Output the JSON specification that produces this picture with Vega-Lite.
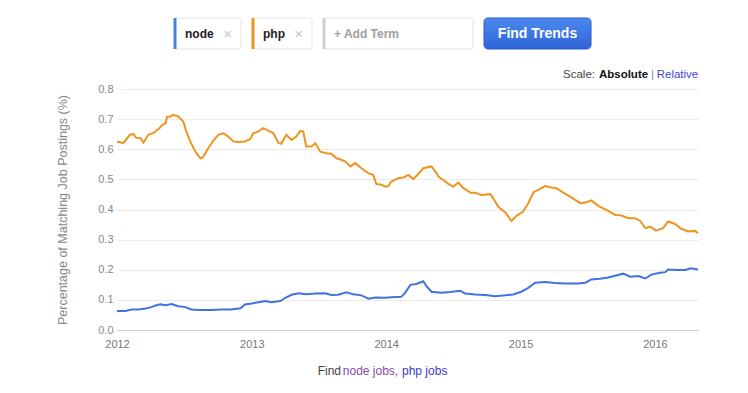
{
  "$schema": "https://vega.github.io/schema/vega-lite/v6.json",
  "padding": {"left": 56, "top": 16, "right": 5, "bottom": 5},
  "background": "white",
  "center": true,
  "spacing": 1,
  "config": {"view": {"stroke": null}, "font": "Liberation Sans"},
  "datasets": {
    "chips": [{"term": "node"}, {"term": "php"}, {"term": "+ Add Term"}, {"term": "Find Trends"}],
    "scale": [{"word": "Scale:"}, {"word": "Absolute"}, {"word": "|"}, {"word": "Relative"}],
    "footer": [{"part": "Find"}, {"part": "node jobs,"}, {"part": "php jobs"}],
    "trends": [
      {"d": "2012-01-01", "t": "php", "v": 0.626},
      {"d": "2012-01-18", "t": "php", "v": 0.620},
      {"d": "2012-02-05", "t": "php", "v": 0.648},
      {"d": "2012-02-15", "t": "php", "v": 0.650},
      {"d": "2012-02-22", "t": "php", "v": 0.638},
      {"d": "2012-03-05", "t": "php", "v": 0.637},
      {"d": "2012-03-13", "t": "php", "v": 0.622},
      {"d": "2012-03-26", "t": "php", "v": 0.648},
      {"d": "2012-04-09", "t": "php", "v": 0.654},
      {"d": "2012-04-23", "t": "php", "v": 0.667},
      {"d": "2012-05-01", "t": "php", "v": 0.678},
      {"d": "2012-05-12", "t": "php", "v": 0.687},
      {"d": "2012-05-16", "t": "php", "v": 0.708},
      {"d": "2012-05-25", "t": "php", "v": 0.709},
      {"d": "2012-06-02", "t": "php", "v": 0.714},
      {"d": "2012-06-15", "t": "php", "v": 0.709},
      {"d": "2012-06-29", "t": "php", "v": 0.692},
      {"d": "2012-07-07", "t": "php", "v": 0.659},
      {"d": "2012-07-18", "t": "php", "v": 0.626},
      {"d": "2012-08-01", "t": "php", "v": 0.592},
      {"d": "2012-08-14", "t": "php", "v": 0.570},
      {"d": "2012-08-22", "t": "php", "v": 0.574},
      {"d": "2012-09-05", "t": "php", "v": 0.604},
      {"d": "2012-09-19", "t": "php", "v": 0.629},
      {"d": "2012-10-02", "t": "php", "v": 0.648},
      {"d": "2012-10-16", "t": "php", "v": 0.653},
      {"d": "2012-10-29", "t": "php", "v": 0.642},
      {"d": "2012-11-12", "t": "php", "v": 0.626},
      {"d": "2012-11-25", "t": "php", "v": 0.624},
      {"d": "2012-12-14", "t": "php", "v": 0.626},
      {"d": "2012-12-28", "t": "php", "v": 0.634},
      {"d": "2013-01-05", "t": "php", "v": 0.653},
      {"d": "2013-01-19", "t": "php", "v": 0.659},
      {"d": "2013-02-01", "t": "php", "v": 0.670},
      {"d": "2013-02-15", "t": "php", "v": 0.662},
      {"d": "2013-03-01", "t": "php", "v": 0.653},
      {"d": "2013-03-14", "t": "php", "v": 0.622},
      {"d": "2013-03-22", "t": "php", "v": 0.618},
      {"d": "2013-04-05", "t": "php", "v": 0.648},
      {"d": "2013-04-19", "t": "php", "v": 0.631},
      {"d": "2013-05-02", "t": "php", "v": 0.642},
      {"d": "2013-05-13", "t": "php", "v": 0.661},
      {"d": "2013-05-21", "t": "php", "v": 0.659},
      {"d": "2013-05-29", "t": "php", "v": 0.609},
      {"d": "2013-06-12", "t": "php", "v": 0.609},
      {"d": "2013-06-23", "t": "php", "v": 0.620},
      {"d": "2013-07-06", "t": "php", "v": 0.592},
      {"d": "2013-07-23", "t": "php", "v": 0.587},
      {"d": "2013-08-05", "t": "php", "v": 0.585},
      {"d": "2013-08-19", "t": "php", "v": 0.570},
      {"d": "2013-09-01", "t": "php", "v": 0.565},
      {"d": "2013-09-12", "t": "php", "v": 0.559},
      {"d": "2013-09-26", "t": "php", "v": 0.543},
      {"d": "2013-10-09", "t": "php", "v": 0.554},
      {"d": "2013-10-26", "t": "php", "v": 0.537},
      {"d": "2013-11-14", "t": "php", "v": 0.520},
      {"d": "2013-11-27", "t": "php", "v": 0.515},
      {"d": "2013-12-05", "t": "php", "v": 0.485},
      {"d": "2013-12-19", "t": "php", "v": 0.482},
      {"d": "2013-12-30", "t": "php", "v": 0.476},
      {"d": "2014-01-07", "t": "php", "v": 0.478},
      {"d": "2014-01-15", "t": "php", "v": 0.493},
      {"d": "2014-02-03", "t": "php", "v": 0.504},
      {"d": "2014-02-17", "t": "php", "v": 0.506},
      {"d": "2014-03-02", "t": "php", "v": 0.515},
      {"d": "2014-03-16", "t": "php", "v": 0.501},
      {"d": "2014-03-29", "t": "php", "v": 0.518},
      {"d": "2014-04-12", "t": "php", "v": 0.537},
      {"d": "2014-05-04", "t": "php", "v": 0.543},
      {"d": "2014-05-15", "t": "php", "v": 0.526},
      {"d": "2014-05-23", "t": "php", "v": 0.509},
      {"d": "2014-06-05", "t": "php", "v": 0.498},
      {"d": "2014-06-19", "t": "php", "v": 0.485},
      {"d": "2014-07-02", "t": "php", "v": 0.476},
      {"d": "2014-07-16", "t": "php", "v": 0.489},
      {"d": "2014-07-30", "t": "php", "v": 0.471},
      {"d": "2014-08-18", "t": "php", "v": 0.456},
      {"d": "2014-08-31", "t": "php", "v": 0.456},
      {"d": "2014-09-16", "t": "php", "v": 0.448},
      {"d": "2014-10-11", "t": "php", "v": 0.451},
      {"d": "2014-10-19", "t": "php", "v": 0.437},
      {"d": "2014-11-02", "t": "php", "v": 0.408},
      {"d": "2014-11-21", "t": "php", "v": 0.390},
      {"d": "2014-12-07", "t": "php", "v": 0.362},
      {"d": "2014-12-21", "t": "php", "v": 0.379},
      {"d": "2015-01-08", "t": "php", "v": 0.393},
      {"d": "2015-01-22", "t": "php", "v": 0.421},
      {"d": "2015-02-05", "t": "php", "v": 0.457},
      {"d": "2015-02-18", "t": "php", "v": 0.465},
      {"d": "2015-03-09", "t": "php", "v": 0.478},
      {"d": "2015-03-25", "t": "php", "v": 0.473},
      {"d": "2015-04-08", "t": "php", "v": 0.471},
      {"d": "2015-04-27", "t": "php", "v": 0.456},
      {"d": "2015-05-19", "t": "php", "v": 0.440},
      {"d": "2015-06-12", "t": "php", "v": 0.421},
      {"d": "2015-06-26", "t": "php", "v": 0.423},
      {"d": "2015-07-12", "t": "php", "v": 0.430},
      {"d": "2015-07-31", "t": "php", "v": 0.412},
      {"d": "2015-08-22", "t": "php", "v": 0.399},
      {"d": "2015-09-15", "t": "php", "v": 0.382},
      {"d": "2015-10-01", "t": "php", "v": 0.381},
      {"d": "2015-10-20", "t": "php", "v": 0.371},
      {"d": "2015-11-08", "t": "php", "v": 0.371},
      {"d": "2015-11-22", "t": "php", "v": 0.362},
      {"d": "2015-12-06", "t": "php", "v": 0.338},
      {"d": "2015-12-19", "t": "php", "v": 0.343},
      {"d": "2016-01-04", "t": "php", "v": 0.330},
      {"d": "2016-01-23", "t": "php", "v": 0.338},
      {"d": "2016-02-06", "t": "php", "v": 0.360},
      {"d": "2016-02-25", "t": "php", "v": 0.352},
      {"d": "2016-03-12", "t": "php", "v": 0.336},
      {"d": "2016-03-31", "t": "php", "v": 0.327},
      {"d": "2016-04-19", "t": "php", "v": 0.329},
      {"d": "2016-04-27", "t": "php", "v": 0.321},
      {"d": "2012-01-01", "t": "node", "v": 0.063},
      {"d": "2012-01-24", "t": "node", "v": 0.063},
      {"d": "2012-02-09", "t": "node", "v": 0.068},
      {"d": "2012-02-28", "t": "node", "v": 0.068},
      {"d": "2012-03-18", "t": "node", "v": 0.071},
      {"d": "2012-04-03", "t": "node", "v": 0.076},
      {"d": "2012-04-17", "t": "node", "v": 0.082},
      {"d": "2012-04-28", "t": "node", "v": 0.085},
      {"d": "2012-05-12", "t": "node", "v": 0.082},
      {"d": "2012-05-28", "t": "node", "v": 0.086},
      {"d": "2012-06-15", "t": "node", "v": 0.079},
      {"d": "2012-07-05", "t": "node", "v": 0.076},
      {"d": "2012-07-21", "t": "node", "v": 0.068},
      {"d": "2012-08-09", "t": "node", "v": 0.066},
      {"d": "2012-09-13", "t": "node", "v": 0.066},
      {"d": "2012-10-11", "t": "node", "v": 0.068},
      {"d": "2012-11-06", "t": "node", "v": 0.068},
      {"d": "2012-12-01", "t": "node", "v": 0.072},
      {"d": "2012-12-14", "t": "node", "v": 0.085},
      {"d": "2012-12-31", "t": "node", "v": 0.088},
      {"d": "2013-01-19", "t": "node", "v": 0.092},
      {"d": "2013-02-07", "t": "node", "v": 0.096},
      {"d": "2013-02-23", "t": "node", "v": 0.092},
      {"d": "2013-03-20", "t": "node", "v": 0.096},
      {"d": "2013-04-02", "t": "node", "v": 0.107},
      {"d": "2013-04-19", "t": "node", "v": 0.117},
      {"d": "2013-05-08", "t": "node", "v": 0.122},
      {"d": "2013-05-29", "t": "node", "v": 0.119},
      {"d": "2013-06-23", "t": "node", "v": 0.121},
      {"d": "2013-07-20", "t": "node", "v": 0.122},
      {"d": "2013-08-05", "t": "node", "v": 0.116},
      {"d": "2013-08-24", "t": "node", "v": 0.117},
      {"d": "2013-09-15", "t": "node", "v": 0.125},
      {"d": "2013-10-04", "t": "node", "v": 0.119},
      {"d": "2013-10-26", "t": "node", "v": 0.115},
      {"d": "2013-11-14", "t": "node", "v": 0.104},
      {"d": "2013-12-03", "t": "node", "v": 0.108},
      {"d": "2013-12-30", "t": "node", "v": 0.107},
      {"d": "2014-01-15", "t": "node", "v": 0.109},
      {"d": "2014-02-11", "t": "node", "v": 0.110},
      {"d": "2014-02-22", "t": "node", "v": 0.124},
      {"d": "2014-03-08", "t": "node", "v": 0.150},
      {"d": "2014-03-24", "t": "node", "v": 0.153},
      {"d": "2014-04-12", "t": "node", "v": 0.162},
      {"d": "2014-04-20", "t": "node", "v": 0.146},
      {"d": "2014-05-04", "t": "node", "v": 0.127},
      {"d": "2014-05-31", "t": "node", "v": 0.124},
      {"d": "2014-06-24", "t": "node", "v": 0.126},
      {"d": "2014-07-21", "t": "node", "v": 0.130},
      {"d": "2014-08-04", "t": "node", "v": 0.121},
      {"d": "2014-08-31", "t": "node", "v": 0.118},
      {"d": "2014-09-27", "t": "node", "v": 0.116},
      {"d": "2014-10-24", "t": "node", "v": 0.112},
      {"d": "2014-11-21", "t": "node", "v": 0.115},
      {"d": "2014-12-12", "t": "node", "v": 0.118},
      {"d": "2015-01-03", "t": "node", "v": 0.127},
      {"d": "2015-01-22", "t": "node", "v": 0.140},
      {"d": "2015-02-10", "t": "node", "v": 0.157},
      {"d": "2015-03-09", "t": "node", "v": 0.159},
      {"d": "2015-04-05", "t": "node", "v": 0.156},
      {"d": "2015-05-02", "t": "node", "v": 0.154},
      {"d": "2015-06-07", "t": "node", "v": 0.154},
      {"d": "2015-06-26", "t": "node", "v": 0.157},
      {"d": "2015-07-12", "t": "node", "v": 0.168},
      {"d": "2015-08-05", "t": "node", "v": 0.170},
      {"d": "2015-08-27", "t": "node", "v": 0.174},
      {"d": "2015-09-18", "t": "node", "v": 0.181},
      {"d": "2015-10-07", "t": "node", "v": 0.187},
      {"d": "2015-10-26", "t": "node", "v": 0.177},
      {"d": "2015-11-17", "t": "node", "v": 0.179},
      {"d": "2015-12-06", "t": "node", "v": 0.171},
      {"d": "2015-12-22", "t": "node", "v": 0.184},
      {"d": "2016-01-15", "t": "node", "v": 0.190},
      {"d": "2016-01-29", "t": "node", "v": 0.192},
      {"d": "2016-02-06", "t": "node", "v": 0.201},
      {"d": "2016-02-28", "t": "node", "v": 0.199},
      {"d": "2016-03-23", "t": "node", "v": 0.199},
      {"d": "2016-04-08", "t": "node", "v": 0.205},
      {"d": "2016-04-27", "t": "node", "v": 0.201}
    ]
  },
  "vconcat": [
    {
      "center": true,
      "spacing": 17,
      "vconcat": [
        {
          "spacing": 9,
          "hconcat": [
            {
              "width": 66, "height": 31,
              "data": {"name": "chips"},
              "transform": [{"filter": "datum.term === 'node'"}],
              "layer": [
                {"mark": {"type": "rect", "fill": "white", "stroke": "#e3e3e3", "strokeWidth": 1, "cornerRadius": 2},
                 "encoding": {"x": {"field": "term", "type": "nominal", "axis": null, "scale": {"type": "band", "paddingInner": 0, "paddingOuter": 0}}}},
                {"mark": {"type": "rule", "strokeWidth": 3, "color": "#4a7ee0"},
                 "encoding": {"x": {"field": "term", "type": "nominal", "bandPosition": 0, "axis": null, "scale": {"type": "band", "paddingInner": 0, "paddingOuter": 0}}}},
                {"mark": {"type": "text", "align": "left", "baseline": "middle", "dx": 10, "fontSize": 12, "fontWeight": "bold", "color": "#222222"},
                 "encoding": {"x": {"field": "term", "type": "nominal", "bandPosition": 0, "axis": null, "scale": {"type": "band", "paddingInner": 0, "paddingOuter": 0}}, "text": {"field": "term"}}},
                {"mark": {"type": "text", "align": "right", "baseline": "middle", "dx": -9, "fontSize": 15, "text": "×", "color": "#c8c8c8"},
                 "encoding": {"x": {"field": "term", "type": "nominal", "bandPosition": 1, "axis": null, "scale": {"type": "band", "paddingInner": 0, "paddingOuter": 0}}}}
              ]
            },
            {
              "width": 59, "height": 31,
              "data": {"name": "chips"},
              "transform": [{"filter": "datum.term === 'php'"}],
              "layer": [
                {"mark": {"type": "rect", "fill": "white", "stroke": "#e3e3e3", "strokeWidth": 1, "cornerRadius": 2},
                 "encoding": {"x": {"field": "term", "type": "nominal", "axis": null, "scale": {"type": "band", "paddingInner": 0, "paddingOuter": 0}}}},
                {"mark": {"type": "rule", "strokeWidth": 3, "color": "#ee9420"},
                 "encoding": {"x": {"field": "term", "type": "nominal", "bandPosition": 0, "axis": null, "scale": {"type": "band", "paddingInner": 0, "paddingOuter": 0}}}},
                {"mark": {"type": "text", "align": "left", "baseline": "middle", "dx": 10, "fontSize": 12, "fontWeight": "bold", "color": "#222222"},
                 "encoding": {"x": {"field": "term", "type": "nominal", "bandPosition": 0, "axis": null, "scale": {"type": "band", "paddingInner": 0, "paddingOuter": 0}}, "text": {"field": "term"}}},
                {"mark": {"type": "text", "align": "right", "baseline": "middle", "dx": -9, "fontSize": 15, "text": "×", "color": "#c8c8c8"},
                 "encoding": {"x": {"field": "term", "type": "nominal", "bandPosition": 1, "axis": null, "scale": {"type": "band", "paddingInner": 0, "paddingOuter": 0}}}}
              ]
            },
            {
              "width": 149, "height": 31,
              "data": {"name": "chips"},
              "transform": [{"filter": "datum.term === '+ Add Term'"}],
              "layer": [
                {"mark": {"type": "rect", "fill": "white", "stroke": "#e3e3e3", "strokeWidth": 1, "cornerRadius": 2},
                 "encoding": {"x": {"field": "term", "type": "nominal", "axis": null, "scale": {"type": "band", "paddingInner": 0, "paddingOuter": 0}}}},
                {"mark": {"type": "rule", "strokeWidth": 3, "color": "#cfcfcf"},
                 "encoding": {"x": {"field": "term", "type": "nominal", "bandPosition": 0, "axis": null, "scale": {"type": "band", "paddingInner": 0, "paddingOuter": 0}}}},
                {"mark": {"type": "text", "align": "left", "baseline": "middle", "dx": 10, "fontSize": 12, "fontWeight": "bold", "color": "#a0a0a0"},
                 "encoding": {"x": {"field": "term", "type": "nominal", "bandPosition": 0, "axis": null, "scale": {"type": "band", "paddingInner": 0, "paddingOuter": 0}}, "text": {"field": "term"}}}
              ]
            },
            {
              "width": 107, "height": 31,
              "data": {"name": "chips"},
              "transform": [{"filter": "datum.term === 'Find Trends'"}],
              "layer": [
                {"mark": {"type": "rect", "cornerRadius": 4, "stroke": "#2b5bc6", "strokeWidth": 1,
                  "fill": {"gradient": "linear", "x1": 0, "y1": 0, "x2": 0, "y2": 1, "stops": [{"offset": 0, "color": "#4d89ee"}, {"offset": 1, "color": "#2f65d7"}]}},
                 "encoding": {"x": {"field": "term", "type": "nominal", "axis": null, "scale": {"type": "band", "paddingInner": 0, "paddingOuter": 0}}}},
                {"mark": {"type": "text", "align": "center", "baseline": "middle", "fontSize": 14, "fontWeight": "bold", "color": "white"},
                 "encoding": {"x": {"field": "term", "type": "nominal", "axis": null, "scale": {"type": "band", "paddingInner": 0, "paddingOuter": 0}}, "text": {"field": "term"}}}
              ]
            },
            {
              "width": 43, "height": 31,
              "data": {"name": "chips"},
              "transform": [{"filter": "datum.term === 'node'"}],
              "mark": {"type": "text", "text": " "},
              "encoding": {}
            }
          ]
        },
        {
          "spacing": 0,
          "hconcat": [
            {
              "width": 442, "height": 14,
              "data": {"name": "scale"},
              "transform": [{"filter": "datum.word === 'Scale:'"}],
              "mark": {"type": "text", "text": " "},
              "encoding": {}
            },
            {
              "width": 36, "height": 14,
              "data": {"name": "scale"},
              "transform": [{"filter": "datum.word === 'Scale:'"}],
              "mark": {"type": "text", "fontSize": 11.5, "color": "#444444", "baseline": "middle"},
              "encoding": {"text": {"field": "word"}}
            },
            {
              "width": 53, "height": 14,
              "data": {"name": "scale"},
              "transform": [{"filter": "datum.word === 'Absolute'"}],
              "mark": {"type": "text", "fontSize": 11.5, "fontWeight": "bold", "color": "#111111", "baseline": "middle"},
              "encoding": {"text": {"field": "word"}}
            },
            {
              "width": 5, "height": 14,
              "data": {"name": "scale"},
              "transform": [{"filter": "datum.word === '|'"}],
              "mark": {"type": "text", "fontSize": 11.5, "color": "#888888", "baseline": "middle"},
              "encoding": {"text": {"field": "word"}}
            },
            {
              "width": 45, "height": 14,
              "data": {"name": "scale"},
              "transform": [{"filter": "datum.word === 'Relative'"}],
              "mark": {"type": "text", "fontSize": 11.5, "color": "#4646d6", "baseline": "middle"},
              "encoding": {"text": {"field": "word"}}
            }
          ]
        }
      ]
    },
    {
      "width": 581,
      "height": 241,
      "data": {"name": "trends"},
      "mark": {"type": "line", "strokeWidth": 2},
      "encoding": {
        "x": {
          "field": "d", "type": "temporal",
          "scale": {"type": "utc", "domain": [{"year": 2012, "month": 1, "date": 1, "utc": true}, {"year": 2016, "month": 4, "date": 27, "utc": true}]},
          "axis": {"title": null, "format": "%Y", "tickCount": {"interval": "year", "step": 1}, "labelFlush": false, "grid": false, "ticks": false, "domain": true, "domainColor": "#cccccc", "labelColor": "#777777", "labelFontSize": 11, "labelPadding": 8}
        },
        "y": {
          "field": "v", "type": "quantitative",
          "scale": {"domain": [0, 0.8], "nice": false},
          "axis": {"title": "Percentage of Matching Job Postings (%)", "values": [0, 0.1, 0.2, 0.3, 0.4, 0.5, 0.6, 0.7, 0.8], "format": ".1f", "grid": true, "gridColor": "#ebebeb", "domain": false, "ticks": false, "labelColor": "#888888", "labelFontSize": 11, "labelPadding": 4, "titleColor": "#888888", "titleFontSize": 12.5, "titleFontWeight": "normal", "titlePadding": 28}
        },
        "color": {"field": "t", "type": "nominal", "legend": null, "scale": {"domain": ["node", "php"], "range": ["#4272e0", "#ee9420"]}}
      }
    },
    {
      "width": 249,
      "height": 42,
      "data": {"name": "footer"},
      "layer": [
        {
          "transform": [{"filter": "datum.part === 'Find'"}],
          "mark": {"type": "text", "fontSize": 12, "align": "right", "baseline": "middle", "dx": -1, "color": "#444444"},
          "encoding": {
            "x": {"field": "part", "type": "nominal", "bandPosition": 1, "axis": null, "scale": {"type": "band", "domain": ["Find", "node jobs,", "php jobs"], "paddingInner": 0, "paddingOuter": 0.684, "align": 0}},
            "text": {"field": "part"}
          }
        },
        {
          "transform": [{"filter": "datum.part === 'node jobs,'"}],
          "mark": {"type": "text", "fontSize": 12, "align": "center", "baseline": "middle", "color": "#8b47a3"},
          "encoding": {
            "x": {"field": "part", "type": "nominal", "axis": null, "scale": {"type": "band", "domain": ["Find", "node jobs,", "php jobs"], "paddingInner": 0, "paddingOuter": 0.684, "align": 0}},
            "text": {"field": "part"}
          }
        },
        {
          "transform": [{"filter": "datum.part === 'php jobs'"}],
          "mark": {"type": "text", "fontSize": 12, "align": "left", "baseline": "middle", "dx": 3, "color": "#3a3ad0"},
          "encoding": {
            "x": {"field": "part", "type": "nominal", "bandPosition": 0, "axis": null, "scale": {"type": "band", "domain": ["Find", "node jobs,", "php jobs"], "paddingInner": 0, "paddingOuter": 0.684, "align": 0}},
            "text": {"field": "part"}
          }
        }
      ]
    }
  ]
}
